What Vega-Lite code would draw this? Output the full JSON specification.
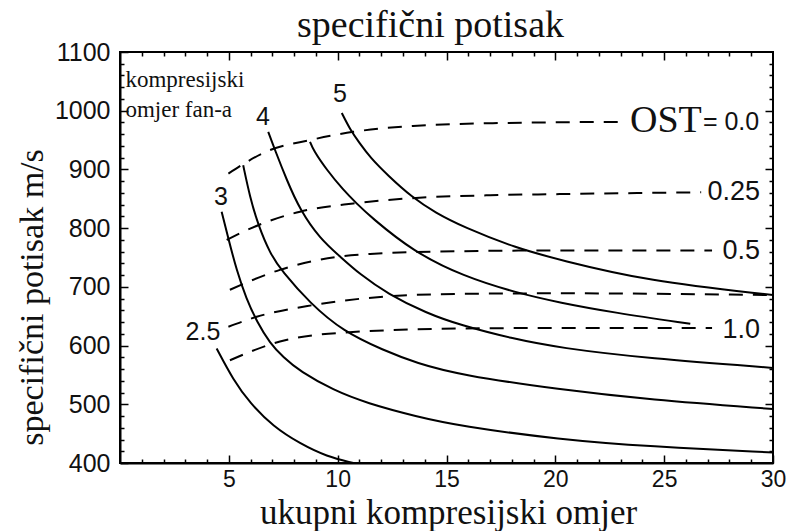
{
  "$schema": "https://vega.github.io/schema/vega-lite/v6.json",
  "width": 653,
  "height": 411,
  "autosize": {"type": "none"},
  "padding": {"left": 120, "top": 52, "right": 16, "bottom": 68},
  "background": "white",
  "title": {
    "text": "specifični potisak",
    "font": "Liberation Serif",
    "fontSize": 38,
    "fontWeight": "normal",
    "color": "#111",
    "anchor": "middle",
    "baseline": "alphabetic",
    "offset": 17,
    "dx": -16,
    "dy": 52
  },
  "datasets": {
    "fan": [
      {"fpr": "2.5", "x": 4.44, "y": 595}, {"fpr": "2.5", "x": 5.21, "y": 541}, {"fpr": "2.5", "x": 5.97, "y": 502}, {"fpr": "2.5", "x": 7.04, "y": 462}, {"fpr": "2.5", "x": 8.27, "y": 433}, {"fpr": "2.5", "x": 9.5, "y": 411}, {"fpr": "2.5", "x": 10.72, "y": 400},
      {"fpr": "3", "x": 4.67, "y": 828}, {"fpr": "3", "x": 4.98, "y": 782}, {"fpr": "3", "x": 5.36, "y": 728}, {"fpr": "3", "x": 5.8, "y": 680}, {"fpr": "3", "x": 6.3, "y": 640}, {"fpr": "3", "x": 6.89, "y": 604}, {"fpr": "3", "x": 7.5, "y": 580}, {"fpr": "3", "x": 8.27, "y": 556}, {"fpr": "3", "x": 9.8, "y": 524}, {"fpr": "3", "x": 11.33, "y": 502}, {"fpr": "3", "x": 13.63, "y": 479}, {"fpr": "3", "x": 15.62, "y": 463}, {"fpr": "3", "x": 20.2, "y": 440}, {"fpr": "3", "x": 24.3, "y": 428}, {"fpr": "3", "x": 30, "y": 418},
      {"fpr": "3.5", "x": 5.66, "y": 907}, {"fpr": "3.5", "x": 5.97, "y": 853}, {"fpr": "3.5", "x": 6.35, "y": 805}, {"fpr": "3.5", "x": 6.89, "y": 757}, {"fpr": "3.5", "x": 7.43, "y": 727}, {"fpr": "3.5", "x": 8.73, "y": 672}, {"fpr": "3.5", "x": 10.26, "y": 624}, {"fpr": "3.5", "x": 12.1, "y": 592}, {"fpr": "3.5", "x": 13.63, "y": 570}, {"fpr": "3.5", "x": 15.62, "y": 550}, {"fpr": "3.5", "x": 20.2, "y": 525}, {"fpr": "3.5", "x": 24.3, "y": 508}, {"fpr": "3.5", "x": 30, "y": 492},
      {"fpr": "4", "x": 6.81, "y": 964}, {"fpr": "4", "x": 7.12, "y": 933}, {"fpr": "4", "x": 7.66, "y": 882}, {"fpr": "4", "x": 8.27, "y": 831}, {"fpr": "4", "x": 9.19, "y": 782}, {"fpr": "4", "x": 10.1, "y": 752}, {"fpr": "4", "x": 11.0, "y": 722}, {"fpr": "4", "x": 12.3, "y": 688}, {"fpr": "4", "x": 14.09, "y": 655}, {"fpr": "4", "x": 15.62, "y": 635}, {"fpr": "4", "x": 18.0, "y": 612}, {"fpr": "4", "x": 20.2, "y": 596}, {"fpr": "4", "x": 24.3, "y": 578}, {"fpr": "4", "x": 30, "y": 562},
      {"fpr": "4.5", "x": 8.73, "y": 947}, {"fpr": "4.5", "x": 8.88, "y": 933}, {"fpr": "4.5", "x": 9.5, "y": 899}, {"fpr": "4.5", "x": 10.26, "y": 865}, {"fpr": "4.5", "x": 10.87, "y": 842}, {"fpr": "4.5", "x": 11.49, "y": 820}, {"fpr": "4.5", "x": 13.47, "y": 760}, {"fpr": "4.5", "x": 15.77, "y": 718}, {"fpr": "4.5", "x": 18.2, "y": 690}, {"fpr": "4.5", "x": 20.2, "y": 673}, {"fpr": "4.5", "x": 22.7, "y": 656}, {"fpr": "4.5", "x": 26.2, "y": 637},
      {"fpr": "5", "x": 10.19, "y": 996}, {"fpr": "5", "x": 10.57, "y": 968}, {"fpr": "5", "x": 11.0, "y": 945}, {"fpr": "5", "x": 11.5, "y": 920}, {"fpr": "5", "x": 12.3, "y": 890}, {"fpr": "5", "x": 13.4, "y": 853}, {"fpr": "5", "x": 14.5, "y": 826}, {"fpr": "5", "x": 15.77, "y": 802}, {"fpr": "5", "x": 18.2, "y": 766}, {"fpr": "5", "x": 20.2, "y": 746}, {"fpr": "5", "x": 24.2, "y": 710}, {"fpr": "5", "x": 30, "y": 686}
    ],
    "ost": [
      {"ost": "0.0", "x": 4.98, "y": 893}, {"ost": "0.0", "x": 6.89, "y": 933}, {"ost": "0.0", "x": 8.73, "y": 950}, {"ost": "0.0", "x": 10.72, "y": 964}, {"ost": "0.0", "x": 13.46, "y": 974}, {"ost": "0.0", "x": 17.5, "y": 979}, {"ost": "0.0", "x": 23.3, "y": 981},
      {"ost": "0.25", "x": 4.9, "y": 780}, {"ost": "0.25", "x": 6.35, "y": 805}, {"ost": "0.25", "x": 8.27, "y": 828}, {"ost": "0.25", "x": 10.72, "y": 842}, {"ost": "0.25", "x": 13.4, "y": 851}, {"ost": "0.25", "x": 17.0, "y": 856}, {"ost": "0.25", "x": 20.2, "y": 858}, {"ost": "0.25", "x": 26.7, "y": 861},
      {"ost": "0.5", "x": 5.05, "y": 695}, {"ost": "0.5", "x": 7.35, "y": 729}, {"ost": "0.5", "x": 9.96, "y": 751}, {"ost": "0.5", "x": 11.49, "y": 756}, {"ost": "0.5", "x": 13.4, "y": 759}, {"ost": "0.5", "x": 20.2, "y": 762}, {"ost": "0.5", "x": 27.2, "y": 762},
      {"ost": "0.75", "x": 4.98, "y": 632}, {"ost": "0.75", "x": 6.28, "y": 649}, {"ost": "0.75", "x": 8.88, "y": 669}, {"ost": "0.75", "x": 12.4, "y": 684}, {"ost": "0.75", "x": 15.62, "y": 688}, {"ost": "0.75", "x": 20.2, "y": 689}, {"ost": "0.75", "x": 30, "y": 686},
      {"ost": "1.0", "x": 5.05, "y": 575}, {"ost": "1.0", "x": 7.35, "y": 607}, {"ost": "1.0", "x": 10.26, "y": 622}, {"ost": "1.0", "x": 15.62, "y": 629}, {"ost": "1.0", "x": 20.2, "y": 630}, {"ost": "1.0", "x": 27.2, "y": 630}
    ],
    "fanLabels": [
      {"x": 10.1, "y": 1028, "t": "5"},
      {"x": 6.57, "y": 989, "t": "4"},
      {"x": 4.64, "y": 853, "t": "3"},
      {"x": 3.81, "y": 623, "t": "2.5"}
    ],
    "ostLabels": [
      {"x": 29.4, "y": 861, "t": "0.25"},
      {"x": 29.4, "y": 761, "t": "0.5"},
      {"x": 29.4, "y": 626, "t": "1.0"}
    ],
    "ostEq": [{"x": 26.78, "y": 967, "t": "= 0.0"}],
    "ostWord": [{"x": 23.43, "y": 964, "t": "OST"}],
    "note": [
      {"x": 0.25, "y": 1040, "t": "kompresijski"},
      {"x": 0.25, "y": 990, "t": "omjer fan-a"}
    ]
  },
  "layer": [
    {
      "data": {"name": "fan"},
      "mark": {"type": "line", "color": "black", "strokeWidth": 2, "interpolate": "basis", "clip": true},
      "encoding": {
        "x": {
          "field": "x", "type": "quantitative",
          "scale": {"domain": [0, 30], "nice": false, "zero": false},
          "axis": {
            "orient": "bottom",
            "values": [1,2,3,4,5,6,7,8,9,10,11,12,13,14,15,16,17,18,19,20,21,22,23,24,25,26,27,28,29,30],
            "labelExpr": "datum.value % 5 === 0 ? datum.label : ''",
            "tickSize": {"condition": {"test": "datum.value % 5 === 0", "value": -8}, "value": -4},
            "labelPadding": 13,
            "labelFontSize": 23,
            "title": "ukupni kompresijski omjer",
            "titleFont": "Liberation Serif",
            "titleFontSize": 35,
            "titleFontWeight": "normal",
            "titleColor": "#111",
            "titleBaseline": "alphabetic",
            "titleX": 328,
            "titleY": 60
          }
        },
        "y": {
          "field": "y", "type": "quantitative",
          "scale": {"domain": [400, 1100], "nice": false, "zero": false},
          "axis": {
            "orient": "left",
            "values": [400,420,440,460,480,500,520,540,560,580,600,620,640,660,680,700,720,740,760,780,800,820,840,860,880,900,920,940,960,980,1000,1020,1040,1060,1080,1100],
            "format": "d",
            "labelExpr": "datum.value % 100 === 0 ? datum.label : ''",
            "tickSize": {"condition": {"test": "datum.value % 100 === 0", "value": -8}, "value": -4},
            "labelPadding": 18,
            "labelFontSize": 25,
            "title": "specifični potisak m/s",
            "titleFont": "Liberation Serif",
            "titleFontSize": 34,
            "titleFontWeight": "normal",
            "titleColor": "#111",
            "titleAngle": -90,
            "titleAlign": "center",
            "titleBaseline": "alphabetic",
            "titleX": -78,
            "titleY": 245
          }
        },
        "detail": {"field": "fpr"}
      }
    },
    {
      "data": {"name": "ost"},
      "mark": {"type": "line", "color": "black", "strokeWidth": 2, "strokeDash": [14, 10], "interpolate": "monotone", "clip": true},
      "encoding": {
        "x": {
          "field": "x", "type": "quantitative",
          "axis": {
            "orient": "top",
            "values": [1,2,3,4,5,6,7,8,9,10,11,12,13,14,15,16,17,18,19,20,21,22,23,24,25,26,27,28,29],
            "labels": false,
            "domain": false,
            "title": null,
            "tickSize": {"condition": {"test": "datum.value % 5 === 0", "value": -8}, "value": -4}
          }
        },
        "y": {
          "field": "y", "type": "quantitative",
          "axis": {
            "orient": "right",
            "values": [420,440,460,480,500,520,540,560,580,600,620,640,660,680,700,720,740,760,780,800,820,840,860,880,900,920,940,960,980,1000,1020,1040,1060,1080],
            "labels": false,
            "domain": false,
            "title": null,
            "tickSize": {"condition": {"test": "datum.value % 100 === 0", "value": -8}, "value": -4}
          }
        },
        "detail": {"field": "ost"}
      }
    },
    {
      "data": {"name": "fanLabels"},
      "mark": {"type": "text", "font": "Liberation Sans", "fontSize": 25, "color": "#111", "align": "center", "baseline": "middle"},
      "encoding": {
        "x": {"field": "x", "type": "quantitative", "axis": null},
        "y": {"field": "y", "type": "quantitative", "axis": null},
        "text": {"field": "t"}
      }
    },
    {
      "data": {"name": "ostLabels"},
      "mark": {"type": "text", "font": "Liberation Sans", "fontSize": 27, "color": "#111", "align": "right", "baseline": "middle"},
      "encoding": {
        "x": {"field": "x", "type": "quantitative", "axis": null},
        "y": {"field": "y", "type": "quantitative", "axis": null},
        "text": {"field": "t"}
      }
    },
    {
      "data": {"name": "ostEq"},
      "mark": {"type": "text", "font": "Liberation Sans", "fontSize": 25, "color": "#111", "align": "left", "baseline": "alphabetic"},
      "encoding": {
        "x": {"field": "x", "type": "quantitative", "axis": null},
        "y": {"field": "y", "type": "quantitative", "axis": null},
        "text": {"field": "t"}
      }
    },
    {
      "data": {"name": "ostWord"},
      "mark": {"type": "text", "font": "Liberation Serif", "fontSize": 38, "color": "#111", "align": "left", "baseline": "alphabetic"},
      "encoding": {
        "x": {"field": "x", "type": "quantitative", "axis": null},
        "y": {"field": "y", "type": "quantitative", "axis": null},
        "text": {"field": "t"}
      }
    },
    {
      "data": {"name": "note"},
      "mark": {"type": "text", "font": "Liberation Serif", "fontSize": 23, "color": "#111", "align": "left", "baseline": "alphabetic"},
      "encoding": {
        "x": {"field": "x", "type": "quantitative", "axis": null},
        "y": {"field": "y", "type": "quantitative", "axis": null},
        "text": {"field": "t"}
      }
    }
  ],
  "resolve": {"axis": {"x": "independent", "y": "independent"}},
  "config": {
    "view": {"stroke": "black", "strokeWidth": 2},
    "axis": {
      "grid": false,
      "domainColor": "black",
      "domainWidth": 2,
      "tickColor": "black",
      "tickWidth": 1.5,
      "labelFont": "Liberation Sans",
      "labelFontSize": 23,
      "labelColor": "#111",
      "labelFlush": false,
      "labelOverlap": false
    }
  }
}
